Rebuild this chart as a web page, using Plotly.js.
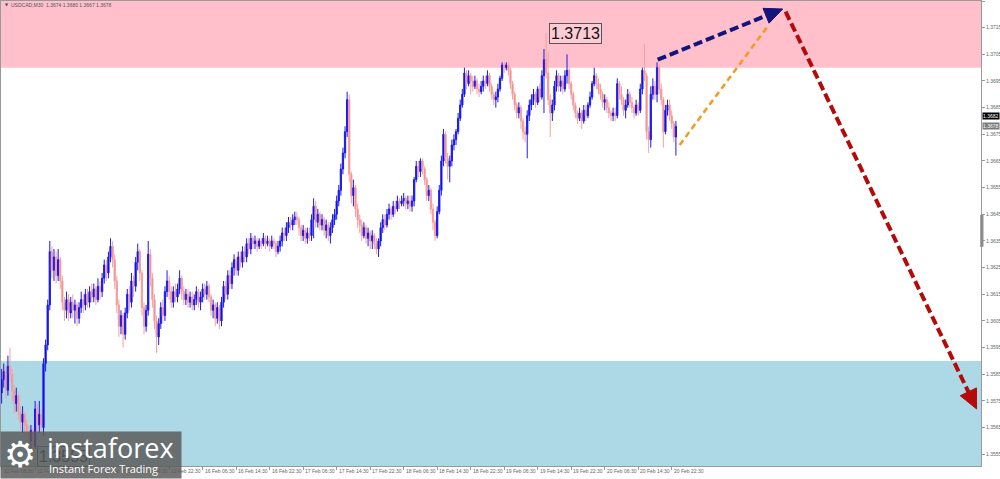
<!DOCTYPE html>
<html>
<head>
<meta charset="utf-8">
<script src="https://cdn.plot.ly/plotly-3.0.1.min.js"></script>
<style>html,body{margin:0;padding:0;background:#fff;}#chart{width:1000px;height:479px;}</style>
</head>
<body>
<div id="chart"></div>
<script>
// ---- DATA (USDCAD, M30) ----
const symbol = "USDCAD,M30";
const opens = [
1.3578,1.3583,1.3586,1.3579,1.3588,1.3585,1.3579,1.3574,1.3577,1.3571,
1.3567,1.3570,1.3566,1.3563,1.3560,1.3564,1.3558,1.3572,1.3566,1.3570,
1.3565,1.3589,1.3596,1.3611,1.3631,1.3624,1.3629,1.3622,1.3628,1.3620,
1.3612,1.3609,1.3613,1.3608,1.3612,1.3609,1.3611,1.3606,1.3610,1.3613,
1.3611,1.3615,1.3612,1.3616,1.3614,1.3617,1.3613,1.3618,1.3616,1.3621,
1.3626,1.3623,1.3629,1.3633,1.3628,1.3620,1.3611,1.3603,1.3607,1.3600,
1.3608,1.3615,1.3612,1.3620,1.3618,1.3627,1.3631,1.3623,1.3610,1.3603,
1.3609,1.3630,1.3621,1.3613,1.3605,1.3599,1.3604,1.3610,1.3607,1.3616,
1.3620,1.3616,1.3612,1.3616,1.3614,1.3617,1.3621,1.3616,1.3613,1.3615,
1.3612,1.3614,1.3611,1.3613,1.3616,1.3612,1.3614,1.3617,1.3615,1.3618,
1.3614,1.3609,1.3611,1.3606,1.3610,1.3605,1.3612,1.3618,1.3615,1.3622,
1.3619,1.3625,1.3628,1.3624,1.3629,1.3627,1.3631,1.3629,1.3634,1.3632,
1.3636,1.3634,1.3635,1.3633,1.3635,1.3634,1.3636,1.3634,1.3635,1.3633,
1.3635,1.3634,1.3631,1.3633,1.3635,1.3638,1.3637,1.3640,1.3642,1.3641,
1.3643,1.3644,1.3643,1.3640,1.3637,1.3639,1.3636,1.3638,1.3637,1.3643,
1.3648,1.3642,1.3645,1.3641,1.3643,1.3639,1.3641,1.3637,1.3640,1.3643,
1.3645,1.3650,1.3654,1.3662,1.3668,1.3676,1.3688,1.3660,1.3652,1.3655,
1.3647,1.3643,1.3641,1.3637,1.3640,1.3636,1.3638,1.3635,1.3637,1.3634,
1.3632,1.3635,1.3640,1.3643,1.3641,1.3645,1.3647,1.3645,1.3648,1.3647,
1.3650,1.3649,1.3650,1.3651,1.3649,1.3650,1.3648,1.3650,1.3658,1.3663,
1.3661,1.3665,1.3662,1.3658,1.3652,1.3654,1.3647,1.3642,1.3637,1.3646,
1.3654,1.3665,1.3675,1.3666,1.3663,1.3665,1.3671,1.3673,1.3676,1.3681,
1.3686,1.3690,1.3698,1.3694,1.3697,1.3695,1.3693,1.3695,1.3692,1.3691,
1.3693,1.3695,1.3694,1.3697,1.3693,1.3690,1.3688,1.3689,1.3692,1.3696,
1.3701,1.3700,1.3701,1.3699,1.3694,1.3690,1.3686,1.3683,1.3685,1.3680,
1.3676,1.3675,1.3682,1.3686,1.3688,1.3690,1.3687,1.3692,1.3689,1.3697,
1.3703,1.3698,1.3688,1.3683,1.3686,1.3693,1.3697,1.3693,1.3695,1.3692,
1.3697,1.3699,1.3694,1.3690,1.3686,1.3683,1.3681,1.3683,1.3680,1.3684,
1.3682,1.3686,1.3689,1.3694,1.3697,1.3694,1.3692,1.3690,1.3687,1.3688,
1.3685,1.3683,1.3682,1.3683,1.3682,1.3694,1.3690,1.3688,1.3684,1.3686,
1.3690,1.3687,1.3685,1.3683,1.3686,1.3684,1.3692,1.3699,1.3697,1.3676,
1.3673,1.3690,1.3693,1.3690,1.3700,1.3692,1.3688,1.3676,1.3684,1.3686,
1.3682,1.3679,1.3674];
const highs = [
1.3587,1.3589,1.3588,1.3592,1.3595,1.3587,1.3581,1.3580,1.3578,1.3573,
1.3573,1.3571,1.3568,1.3566,1.3566,1.3565,1.3575,1.3574,1.3575,1.3572,
1.3591,1.3598,1.3613,1.3635,1.3633,1.3632,1.3631,1.3632,1.3629,1.3622,
1.3614,1.3616,1.3615,1.3614,1.3615,1.3613,1.3612,1.3612,1.3616,1.3615,
1.3617,1.3617,1.3618,1.3619,1.3619,1.3618,1.3621,1.3620,1.3623,1.3628,
1.3628,1.3631,1.3636,1.3635,1.3630,1.3622,1.3613,1.3609,1.3608,1.3610,
1.3617,1.3618,1.3623,1.3622,1.3629,1.3634,1.3632,1.3624,1.3612,1.3611,
1.3635,1.3632,1.3623,1.3615,1.3607,1.3606,1.3612,1.3613,1.3618,1.3624,
1.3622,1.3618,1.3618,1.3619,1.3619,1.3624,1.3622,1.3618,1.3617,1.3617,
1.3616,1.3616,1.3615,1.3618,1.3617,1.3616,1.3619,1.3619,1.3620,1.3619,
1.3615,1.3613,1.3612,1.3612,1.3611,1.3614,1.3620,1.3620,1.3624,1.3624,
1.3627,1.3630,1.3629,1.3631,1.3631,1.3633,1.3633,1.3636,1.3636,1.3638,
1.3637,1.3637,1.3636,1.3636,1.3636,1.3638,1.3637,1.3637,1.3636,1.3637,
1.3636,1.3635,1.3635,1.3637,1.3640,1.3640,1.3642,1.3644,1.3644,1.3645,
1.3646,1.3646,1.3644,1.3641,1.3641,1.3640,1.3640,1.3640,1.3645,1.3651,
1.3650,1.3647,1.3646,1.3645,1.3644,1.3643,1.3642,1.3642,1.3645,1.3647,
1.3652,1.3656,1.3664,1.3670,1.3678,1.3691,1.3690,1.3661,1.3658,1.3656,
1.3649,1.3645,1.3643,1.3642,1.3641,1.3640,1.3639,1.3639,1.3638,1.3636,
1.3636,1.3642,1.3645,1.3645,1.3647,1.3649,1.3648,1.3650,1.3650,1.3652,
1.3651,1.3652,1.3653,1.3652,1.3652,1.3652,1.3652,1.3659,1.3665,1.3665,
1.3666,1.3666,1.3663,1.3659,1.3656,1.3655,1.3649,1.3643,1.3648,1.3656,
1.3667,1.3677,1.3676,1.3668,1.3667,1.3673,1.3675,1.3677,1.3683,1.3688,
1.3692,1.3700,1.3699,1.3699,1.3698,1.3697,1.3697,1.3696,1.3694,1.3695,
1.3697,1.3697,1.3699,1.3698,1.3694,1.3691,1.3691,1.3694,1.3697,1.3702,
1.3702,1.3702,1.3702,1.3700,1.3695,1.3691,1.3687,1.3687,1.3686,1.3681,
1.3678,1.3684,1.3688,1.3690,1.3692,1.3691,1.3693,1.3694,1.3699,1.3707,
1.3713,1.3706,1.3690,1.3688,1.3695,1.3699,1.3698,1.3697,1.3697,1.3699,
1.3705,1.3700,1.3695,1.3691,1.3687,1.3684,1.3685,1.3684,1.3686,1.3686,
1.3687,1.3691,1.3695,1.3700,1.3698,1.3696,1.3694,1.3691,1.3690,1.3689,
1.3687,1.3684,1.3685,1.3685,1.3696,1.3695,1.3693,1.3689,1.3688,1.3692,
1.3691,1.3689,1.3686,1.3688,1.3687,1.3694,1.3700,1.3709,1.3698,1.3678,
1.3693,1.3696,1.3695,1.3702,1.3701,1.3694,1.3689,1.3686,1.3688,1.3688,
1.3684,1.3680,1.3680];
const lows = [
1.3574,1.3580,1.3576,1.3577,1.3582,1.3575,1.3570,1.3571,1.3568,1.3564,
1.3563,1.3562,1.3559,1.3557,1.3557,1.3555,1.3557,1.3561,1.3563,1.3562,
1.3562,1.3586,1.3594,1.3609,1.3621,1.3620,1.3619,1.3620,1.3617,1.3609,
1.3605,1.3606,1.3605,1.3606,1.3606,1.3604,1.3603,1.3604,1.3608,1.3608,
1.3609,1.3610,1.3610,1.3612,1.3612,1.3611,1.3612,1.3613,1.3614,1.3619,
1.3620,1.3621,1.3627,1.3625,1.3617,1.3608,1.3599,1.3600,1.3595,1.3598,
1.3606,1.3609,1.3610,1.3614,1.3616,1.3624,1.3620,1.3607,1.3600,1.3601,
1.3607,1.3618,1.3610,1.3602,1.3593,1.3596,1.3602,1.3604,1.3605,1.3614,
1.3613,1.3610,1.3610,1.3612,1.3612,1.3615,1.3613,1.3611,1.3611,1.3610,
1.3610,1.3609,1.3609,1.3611,1.3610,1.3609,1.3612,1.3613,1.3613,1.3612,
1.3607,1.3606,1.3603,1.3604,1.3602,1.3603,1.3610,1.3613,1.3613,1.3617,
1.3617,1.3622,1.3622,1.3622,1.3625,1.3625,1.3627,1.3627,1.3630,1.3630,
1.3632,1.3632,1.3631,1.3632,1.3632,1.3633,1.3632,1.3633,1.3631,1.3632,
1.3632,1.3629,1.3630,1.3631,1.3633,1.3635,1.3635,1.3638,1.3639,1.3639,
1.3641,1.3641,1.3637,1.3635,1.3635,1.3634,1.3634,1.3635,1.3635,1.3636,
1.3640,1.3640,1.3639,1.3639,1.3637,1.3636,1.3635,1.3634,1.3638,1.3641,
1.3643,1.3648,1.3652,1.3660,1.3666,1.3674,1.3657,1.3649,1.3648,1.3644,
1.3640,1.3638,1.3635,1.3636,1.3634,1.3633,1.3632,1.3632,1.3632,1.3630,
1.3629,1.3633,1.3638,1.3639,1.3640,1.3643,1.3643,1.3644,1.3645,1.3646,
1.3647,1.3648,1.3648,1.3647,1.3647,1.3646,1.3646,1.3648,1.3657,1.3659,
1.3659,1.3660,1.3656,1.3650,1.3650,1.3645,1.3639,1.3635,1.3636,1.3645,
1.3652,1.3663,1.3664,1.3658,1.3657,1.3663,1.3669,1.3671,1.3675,1.3680,
1.3685,1.3689,1.3692,1.3693,1.3690,1.3691,1.3692,1.3690,1.3689,1.3690,
1.3691,1.3692,1.3693,1.3691,1.3688,1.3686,1.3685,1.3687,1.3691,1.3695,
1.3698,1.3699,1.3697,1.3692,1.3688,1.3684,1.3681,1.3681,1.3677,1.3673,
1.3672,1.3666,1.3680,1.3684,1.3686,1.3685,1.3686,1.3687,1.3688,1.3683,
1.3696,1.3686,1.3674,1.3680,1.3684,1.3691,1.3691,1.3691,1.3690,1.3691,
1.3694,1.3692,1.3688,1.3684,1.3681,1.3679,1.3680,1.3677,1.3679,1.3680,
1.3681,1.3685,1.3688,1.3693,1.3692,1.3690,1.3688,1.3685,1.3684,1.3683,
1.3681,1.3680,1.3680,1.3680,1.3681,1.3688,1.3686,1.3682,1.3681,1.3685,
1.3685,1.3683,1.3681,1.3682,1.3682,1.3683,1.3690,1.3695,1.3673,1.3668,
1.3670,1.3688,1.3688,1.3687,1.3690,1.3686,1.3670,1.3675,1.3682,1.3680,
1.3677,1.3672,1.3667];
const closes = [
1.3583,1.3586,1.3579,1.3588,1.3585,1.3579,1.3574,1.3577,1.3571,1.3567,
1.3570,1.3566,1.3563,1.3560,1.3564,1.3558,1.3572,1.3566,1.3570,1.3565,
1.3589,1.3596,1.3611,1.3631,1.3624,1.3629,1.3622,1.3628,1.3620,1.3612,
1.3609,1.3613,1.3608,1.3612,1.3609,1.3611,1.3606,1.3610,1.3613,1.3611,
1.3615,1.3612,1.3616,1.3614,1.3617,1.3613,1.3618,1.3616,1.3621,1.3626,
1.3623,1.3629,1.3633,1.3628,1.3620,1.3611,1.3603,1.3607,1.3600,1.3608,
1.3615,1.3612,1.3620,1.3618,1.3627,1.3631,1.3623,1.3610,1.3603,1.3609,
1.3630,1.3621,1.3613,1.3605,1.3599,1.3604,1.3610,1.3607,1.3616,1.3620,
1.3616,1.3612,1.3616,1.3614,1.3617,1.3621,1.3616,1.3613,1.3615,1.3612,
1.3614,1.3611,1.3613,1.3616,1.3612,1.3614,1.3617,1.3615,1.3618,1.3614,
1.3609,1.3611,1.3606,1.3610,1.3605,1.3612,1.3618,1.3615,1.3622,1.3619,
1.3625,1.3628,1.3624,1.3629,1.3627,1.3631,1.3629,1.3634,1.3632,1.3636,
1.3634,1.3635,1.3633,1.3635,1.3634,1.3636,1.3634,1.3635,1.3633,1.3635,
1.3634,1.3631,1.3633,1.3635,1.3638,1.3637,1.3640,1.3642,1.3641,1.3643,
1.3644,1.3643,1.3640,1.3637,1.3639,1.3636,1.3638,1.3637,1.3643,1.3648,
1.3642,1.3645,1.3641,1.3643,1.3639,1.3641,1.3637,1.3640,1.3643,1.3645,
1.3650,1.3654,1.3662,1.3668,1.3676,1.3688,1.3660,1.3652,1.3655,1.3647,
1.3643,1.3641,1.3637,1.3640,1.3636,1.3638,1.3635,1.3637,1.3634,1.3632,
1.3635,1.3640,1.3643,1.3641,1.3645,1.3647,1.3645,1.3648,1.3647,1.3650,
1.3649,1.3650,1.3651,1.3649,1.3650,1.3648,1.3650,1.3658,1.3663,1.3661,
1.3665,1.3662,1.3658,1.3652,1.3654,1.3647,1.3642,1.3637,1.3646,1.3654,
1.3665,1.3675,1.3666,1.3663,1.3665,1.3671,1.3673,1.3676,1.3681,1.3686,
1.3690,1.3698,1.3694,1.3697,1.3695,1.3693,1.3695,1.3692,1.3691,1.3693,
1.3695,1.3694,1.3697,1.3693,1.3690,1.3688,1.3689,1.3692,1.3696,1.3701,
1.3700,1.3701,1.3699,1.3694,1.3690,1.3686,1.3683,1.3685,1.3680,1.3676,
1.3675,1.3682,1.3686,1.3688,1.3690,1.3687,1.3692,1.3689,1.3697,1.3703,
1.3698,1.3688,1.3683,1.3686,1.3693,1.3697,1.3693,1.3695,1.3692,1.3697,
1.3699,1.3694,1.3690,1.3686,1.3683,1.3681,1.3683,1.3680,1.3684,1.3682,
1.3686,1.3689,1.3694,1.3697,1.3694,1.3692,1.3690,1.3687,1.3688,1.3685,
1.3683,1.3682,1.3683,1.3682,1.3694,1.3690,1.3688,1.3684,1.3686,1.3690,
1.3687,1.3685,1.3683,1.3686,1.3684,1.3692,1.3699,1.3697,1.3676,1.3673,
1.3690,1.3693,1.3690,1.3700,1.3692,1.3688,1.3676,1.3684,1.3686,1.3682,
1.3679,1.3674,1.3678];
const barsPerLabel = 16;
const timeLabels = ["12 Feb 06:30","12 Feb 14:30","12 Feb 22:30","13 Feb 06:30","13 Feb 14:30","13 Feb 22:30",
"16 Feb 06:30","16 Feb 14:30","16 Feb 22:30","17 Feb 06:30","17 Feb 14:30","17 Feb 22:30",
"18 Feb 06:30","18 Feb 14:30","18 Feb 22:30","19 Feb 06:30","19 Feb 14:30","19 Feb 22:30",
"20 Feb 06:30","20 Feb 14:30","20 Feb 22:30"];
const priceTicks = [1.3555,1.3565,1.3575,1.3585,1.3595,1.3605,1.3615,1.3625,1.3635,1.3645,1.3655,1.3665,1.3675,1.3685,1.3695,1.3705,1.3715,1.3725];
const resistanceZone = [1.3700, 1.3740];
const supportZone = [1.3480, 1.3590];
const askPrice = 1.3682;
// forecast arrows: [startBar, startPrice, endBar, endPrice]
const upArrow = [313.3, 1.3703, 373.0, 1.3722];
const altPath = [323.8, 1.3671, 366.3, 1.3716];
const downArrow = [374.4, 1.3721, 465.6, 1.3572];

// ---- LAYOUT GEOMETRY ----
const W = 1000, H = 479;
const M = {l: 1, r: 19, t: 1, b: 13};
const PW = W - M.l - M.r, PH = H - M.t - M.b;
const XR = [-0.3, 467.7];
const YR = [1.35506, 1.3725];

const n = closes.length;
const xs = closes.map((_, i) => i);

function toPx(x, y) { return [(x - XR[0]) / (XR[1] - XR[0]) * PW, (YR[1] - y) / (YR[1] - YR[0]) * PH]; }
function fromPx(px, py) { return [XR[0] + px / PW * (XR[1] - XR[0]), YR[1] - py / PH * (YR[1] - YR[0])]; }

function arrowShapes(a, color, width, dash, headLen, headHalf) {
  const p0 = toPx(a[0], a[1]), p1 = toPx(a[2], a[3]);
  const dx = p1[0] - p0[0], dy = p1[1] - p0[1];
  const L = Math.hypot(dx, dy), ux = dx / L, uy = dy / L;
  const shapes = [];
  let end = [a[2], a[3]];
  if (headLen > 0) {
    const bx = p1[0] - ux * headLen, by = p1[1] - uy * headLen;
    const nx = -uy, ny = ux;
    const A = fromPx(bx + nx * headHalf, by + ny * headHalf);
    const B = fromPx(bx - nx * headHalf, by - ny * headHalf);
    const T = [a[2], a[3]];
    end = fromPx(bx + ux * 2, by + uy * 2);
    shapes.push({type: 'path', xref: 'x', yref: 'y', layer: 'above',
      path: `M ${A[0]},${A[1]} L ${T[0]},${T[1]} L ${B[0]},${B[1]} Z`,
      fillcolor: color, line: {color: color, width: 1}});
  }
  shapes.unshift({type: 'line', xref: 'x', yref: 'y', layer: 'above',
    x0: a[0], y0: a[1], x1: end[0], y1: end[1],
    line: {color: color, width: width, dash: dash}});
  return shapes;
}

const shapes = [
  {type: 'rect', xref: 'paper', yref: 'y', x0: 0, x1: 1, y0: resistanceZone[0], y1: resistanceZone[1],
   fillcolor: '#ffc0cb', line: {width: 0}, layer: 'below'},
  {type: 'rect', xref: 'paper', yref: 'y', x0: 0, x1: 1, y0: supportZone[0], y1: supportZone[1],
   fillcolor: '#add8e6', line: {width: 0}, layer: 'below'},
  {type: 'rect', xref: 'paper', yref: 'y', x0: 0.9992, x1: 1.0025, y0: 1.36328, y1: 1.36448,
   fillcolor: '#8a8a8a', line: {width: 0}, layer: 'above'},
  ...arrowShapes(altPath, '#f59a1e', 2.5, '6px,4px', 0, 0),
  ...arrowShapes(upArrow, '#14147a', 4, '9px,4px', 18, 8),
  ...arrowShapes(downArrow, '#b40a0a', 4, '9px,4px', 19, 9),
];

// extreme labels from data
let hiI = 0, loI = 0;
for (let i = 0; i < n; i++) { if (highs[i] > highs[hiI]) hiI = i; if (lows[i] < lows[loI]) loI = i; }

const annotations = [];
const paperY = (py) => (H - M.b - py) / PH; // py absolute pixel
const paperX = (px) => (px - M.l) / PW;
timeLabels.forEach((t, k) => {
  annotations.push({x: k * barsPerLabel, xref: 'x', y: paperY(471.5), yref: 'paper', text: t,
    showarrow: false, xanchor: 'left', yanchor: 'middle', xshift: 0,
    font: {family: 'Liberation Sans, Arial, sans-serif', size: 5, color: '#666'}});
});
// right-hand price tags
annotations.push({x: 1, xref: 'paper', y: askPrice, yref: 'y', text: askPrice.toFixed(4), showarrow: false,
  xanchor: 'left', yanchor: 'middle', bgcolor: '#000', borderpad: 0, xshift: 1,
  font: {family: 'Liberation Sans, Arial, sans-serif', size: 5, color: '#fff'}});
annotations.push({x: 1, xref: 'paper', y: closes[n - 1], yref: 'y', text: closes[n - 1].toFixed(4), showarrow: false,
  xanchor: 'left', yanchor: 'middle', bgcolor: '#7a7a7a', borderpad: 0, xshift: 1,
  font: {family: 'Liberation Sans, Arial, sans-serif', size: 5, color: '#fff'}});
// high label
annotations.push({x: hiI, xref: 'x', y: highs[hiI], yref: 'y', text: highs[hiI].toFixed(4), showarrow: false,
  xanchor: 'left', yanchor: 'middle', xshift: 3, bgcolor: 'rgba(255,210,218,0.6)', bordercolor: '#555', borderwidth: 1, borderpad: 1,
  font: {family: 'Liberation Sans, Arial, sans-serif', size: 16, color: '#111'}});
// low label
annotations.push({x: loI, xref: 'x', y: lows[loI], yref: 'y', text: lows[loI].toFixed(4), showarrow: false,
  xanchor: 'left', yanchor: 'middle', xshift: 4, yshift: -2, bgcolor: 'rgba(173,216,230,1)', bordercolor: '#555', borderwidth: 1, borderpad: 1,
  font: {family: 'Liberation Sans, Arial, sans-serif', size: 16, color: '#111'}});
// logo
annotations.push({x: paperX(0), xref: 'paper', y: paperY(479), yref: 'paper', text: ' ', showarrow: false,
  xanchor: 'left', yanchor: 'bottom', width: 180, height: 46, bgcolor: 'rgba(90,90,90,0.84)', borderpad: 0});
annotations.push({x: paperX(20), xref: 'paper', y: paperY(454), yref: 'paper', text: '\u2699', showarrow: false,
  xanchor: 'center', yanchor: 'middle', font: {family: 'DejaVu Sans', size: 36, color: '#fff'}});
annotations.push({x: paperX(45), xref: 'paper', y: paperY(447), yref: 'paper', text: 'instaforex', showarrow: false,
  xanchor: 'left', yanchor: 'middle', font: {family: 'Open Sans, sans-serif', size: 27, color: '#fff'}});
annotations.push({x: paperX(47), xref: 'paper', y: paperY(469), yref: 'paper', text: 'Instant Forex Trading', showarrow: false,
  xanchor: 'left', yanchor: 'middle', font: {family: 'Open Sans, sans-serif', size: 11, color: '#fff'}});
// header
annotations.push({x: paperX(3), xref: 'paper', y: paperY(5), yref: 'paper', text: '\u25BC', showarrow: false,
  xanchor: 'left', yanchor: 'middle', font: {family: 'DejaVu Sans', size: 4, color: '#444'}});
annotations.push({x: paperX(9), xref: 'paper', y: paperY(5), yref: 'paper',
  text: `${symbol}  ${opens[n-1].toFixed(4)} ${highs[n-1].toFixed(4)} ${lows[n-1].toFixed(4)} ${closes[n-1].toFixed(4)}`,
  showarrow: false, xanchor: 'left', yanchor: 'middle',
  font: {family: 'Liberation Sans, Arial, sans-serif', size: 5, color: '#555'}});

const trace = {
  type: 'candlestick', x: xs, open: opens, high: highs, low: lows, close: closes,
  increasing: {line: {color: '#1c1ce8', width: 1}, fillcolor: '#0000f0'},
  decreasing: {line: {color: '#f4a0a0', width: 1}, fillcolor: '#ee8080'},
  whiskerwidth: 0, hoverinfo: 'none', showlegend: false
};

const layout = {
  width: W, height: H, margin: M,
  paper_bgcolor: '#fff', plot_bgcolor: '#fff',
  showlegend: false, dragmode: false,
  xaxis: {range: XR, type: 'linear', showgrid: false, zeroline: false, rangeslider: {visible: false},
    showline: true, linecolor: '#999', linewidth: 1, mirror: true,
    tickmode: 'array', tickvals: timeLabels.map((_, k) => k * barsPerLabel), ticks: 'outside', ticklen: 3,
    tickcolor: '#999', showticklabels: false, fixedrange: true},
  yaxis: {range: YR, side: 'right', showgrid: false, zeroline: false,
    showline: true, linecolor: '#999', linewidth: 1, mirror: true,
    tickmode: 'array', tickvals: priceTicks, ticktext: priceTicks.map(v => v.toFixed(4)),
    ticks: 'outside', ticklen: 3, tickcolor: '#999',
    tickfont: {family: 'Liberation Sans, Arial, sans-serif', size: 5, color: '#666'}, fixedrange: true},
  shapes: shapes, annotations: annotations, boxgap: 0.15
};

Plotly.newPlot('chart', [trace], layout, {staticPlot: true, displayModeBar: false});
</script>
</body>
</html>
